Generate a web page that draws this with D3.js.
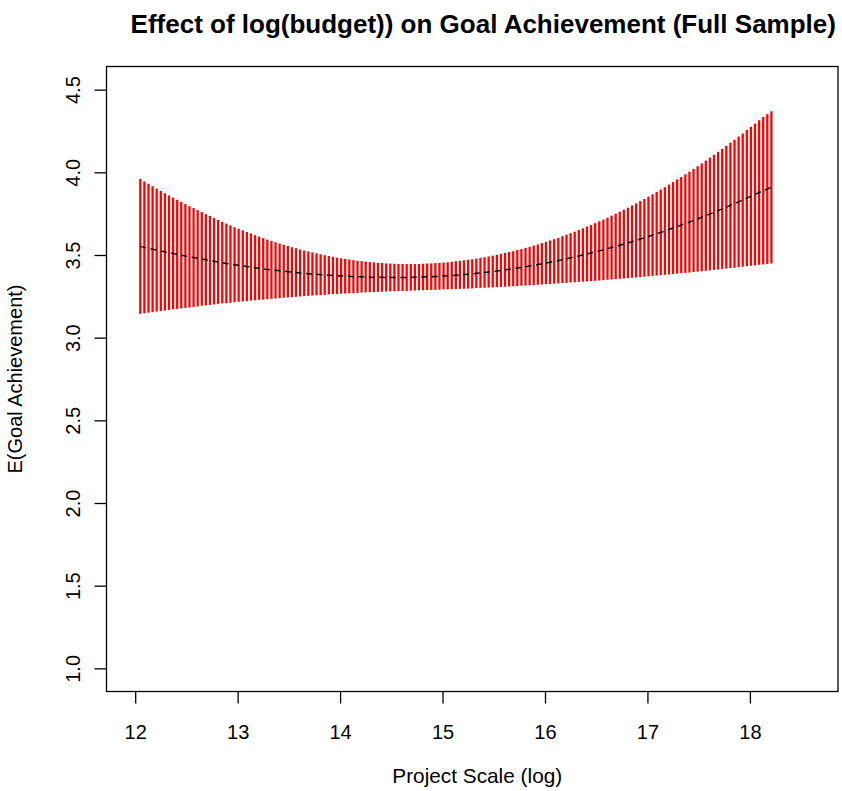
<!DOCTYPE html>
<html><head><meta charset="utf-8">
<script src="https://cdn.jsdelivr.net/npm/d3@7"></script>
<style>
body{margin:0;background:#fff}
svg{display:block}
text{font-family:"Liberation Sans",Arial,Helvetica,sans-serif;fill:#000}
</style>
</head><body>
<svg id="chart" width="842" height="791"></svg>
<script>
// log(budget) evaluation points
const budgetLog = [
12.05,12.09,12.13,12.17,12.21,12.25,12.29,12.33,12.37,12.41,
12.45,12.49,12.53,12.57,12.61,12.65,12.69,12.73,12.77,12.81,
12.85,12.89,12.93,12.97,13.01,13.05,13.09,13.13,13.17,13.21,
13.25,13.29,13.33,13.37,13.41,13.45,13.49,13.53,13.57,13.61,
13.65,13.69,13.73,13.77,13.81,13.85,13.89,13.93,13.97,14.01,
14.05,14.09,14.13,14.17,14.21,14.25,14.29,14.33,14.37,14.41,
14.45,14.49,14.53,14.57,14.61,14.65,14.69,14.73,14.77,14.81,
14.85,14.89,14.93,14.97,15.01,15.05,15.09,15.13,15.17,15.21,
15.25,15.29,15.33,15.37,15.41,15.45,15.49,15.53,15.57,15.61,
15.65,15.69,15.73,15.77,15.81,15.85,15.89,15.93,15.97,16.01,
16.05,16.09,16.13,16.17,16.21,16.25,16.29,16.33,16.37,16.41,
16.45,16.49,16.53,16.57,16.61,16.65,16.69,16.73,16.77,16.81,
16.85,16.89,16.93,16.97,17.01,17.05,17.09,17.13,17.17,17.21,
17.25,17.29,17.33,17.37,17.41,17.45,17.49,17.53,17.57,17.61,
17.65,17.69,17.73,17.77,17.81,17.85,17.89,17.93,17.97,18.01,
18.05,18.09,18.13,18.17,18.21
];
// expected goal achievement (dashed line)
const effect = [
3.552,3.546,3.541,3.535,3.530,3.524,3.519,3.514,3.509,3.504,
3.499,3.494,3.489,3.485,3.480,3.476,3.471,3.467,3.462,3.458,
3.454,3.449,3.445,3.441,3.438,3.434,3.430,3.427,3.423,3.420,
3.416,3.413,3.410,3.407,3.404,3.402,3.399,3.396,3.394,3.391,
3.389,3.387,3.385,3.383,3.381,3.379,3.378,3.376,3.374,3.373,
3.372,3.371,3.369,3.368,3.368,3.367,3.366,3.365,3.365,3.365,
3.364,3.364,3.364,3.364,3.364,3.364,3.365,3.365,3.366,3.367,
3.368,3.369,3.370,3.371,3.373,3.374,3.376,3.378,3.380,3.382,
3.384,3.386,3.389,3.392,3.394,3.397,3.400,3.403,3.407,3.410,
3.414,3.417,3.421,3.425,3.429,3.433,3.438,3.442,3.447,3.451,
3.456,3.461,3.466,3.472,3.477,3.483,3.488,3.494,3.500,3.506,
3.512,3.518,3.525,3.531,3.538,3.545,3.552,3.559,3.566,3.573,
3.581,3.588,3.596,3.604,3.612,3.620,3.629,3.637,3.645,3.654,
3.663,3.672,3.681,3.690,3.699,3.709,3.718,3.728,3.738,3.748,
3.758,3.768,3.779,3.789,3.800,3.810,3.821,3.832,3.844,3.855,
3.866,3.878,3.889,3.899,3.909
];
// half width of the confidence interval (red bars)
const ciHalf = [
0.408,0.399,0.390,0.381,0.372,0.363,0.355,0.346,0.338,0.330,
0.322,0.314,0.306,0.299,0.291,0.283,0.276,0.269,0.261,0.254,
0.247,0.241,0.234,0.227,0.221,0.215,0.209,0.203,0.197,0.191,
0.186,0.180,0.175,0.170,0.165,0.160,0.156,0.151,0.147,0.142,
0.138,0.134,0.130,0.127,0.123,0.120,0.116,0.113,0.110,0.107,
0.105,0.102,0.100,0.097,0.095,0.093,0.091,0.090,0.088,0.087,
0.085,0.084,0.083,0.082,0.082,0.081,0.081,0.080,0.080,0.080,
0.080,0.080,0.081,0.081,0.081,0.082,0.083,0.084,0.085,0.086,
0.087,0.088,0.089,0.091,0.092,0.094,0.096,0.098,0.100,0.102,
0.104,0.106,0.109,0.111,0.114,0.116,0.119,0.122,0.125,0.128,
0.132,0.135,0.138,0.142,0.146,0.149,0.153,0.157,0.161,0.166,
0.170,0.174,0.179,0.183,0.188,0.193,0.198,0.203,0.208,0.213,
0.219,0.224,0.230,0.235,0.241,0.247,0.253,0.259,0.265,0.272,
0.278,0.285,0.291,0.298,0.305,0.312,0.319,0.326,0.333,0.341,
0.348,0.356,0.363,0.371,0.379,0.387,0.395,0.403,0.412,0.420,
0.429,0.437,0.446,0.453,0.460
];
const xTicks = [12,13,14,15,16,17,18];
const yTicks = [1.0,1.5,2.0,2.5,3.0,3.5,4.0,4.5];
const titleText = "Effect of log(budget)) on Goal Achievement (Full Sample)";
const xLabelText = "Project Scale (log)";
const yLabelText = "E(Goal Achievement)";

const svg = d3.select("#chart");
const L = 106.5, R = 838, T = 66.5, B = 691.5;
const x = d3.scaleLinear().domain([11.72, 18.86]).range([L, R]);
const y = d3.scaleLinear().domain([0.86, 4.64]).range([B, T]);

const rows = budgetLog.map((u, i) => ({u, m: effect[i], lo: effect[i] - ciHalf[i], hi: effect[i] + ciHalf[i]}));

// CI bars
svg.append("g").selectAll("line").data(rows).join("line")
  .attr("x1", d => x(d.u)).attr("x2", d => x(d.u))
  .attr("y1", d => y(d.lo)).attr("y2", d => y(d.hi))
  .attr("stroke", "#ff0000").attr("stroke-width", 2.3);

// mean dashed line
svg.append("path").datum(rows)
  .attr("d", d3.line().x(d => x(d.u)).y(d => y(d.m)))
  .attr("fill", "none").attr("stroke", "#000").attr("stroke-width", 1.5)
  .attr("stroke-dasharray", "6,4.5");

// box
svg.append("rect").attr("x", L).attr("y", T).attr("width", R - L).attr("height", B - T)
  .attr("fill", "none").attr("stroke", "#000").attr("stroke-width", 1.3);

// x axis
const gx = svg.append("g").attr("transform", `translate(0,${B})`)
  .call(d3.axisBottom(x).tickValues(xTicks).tickSize(12).tickPadding(21.3).tickFormat(d3.format("d")));
gx.select(".domain").remove();
gx.selectAll("line").attr("stroke", "#000").attr("stroke-width", 1.3);
gx.selectAll("text").attr("font-size", 20).attr("font-family", "Liberation Sans, Arial, sans-serif");

// y axis
const gy = svg.append("g").attr("transform", `translate(${L},0)`)
  .call(d3.axisLeft(y).tickValues(yTicks).tickSize(12).tickFormat(d3.format(".1f")));
gy.select(".domain").remove();
gy.selectAll("line").attr("stroke", "#000").attr("stroke-width", 1.3);
gy.selectAll("text")
  .attr("x", null).attr("dy", null)
  .attr("transform", "translate(-26.5,0) rotate(-90)")
  .attr("text-anchor", "middle")
  .attr("font-size", 20).attr("font-family", "Liberation Sans, Arial, sans-serif");

// titles
const cx = (L + R) / 2;
svg.append("text").attr("x", cx + 11).attr("y", 33).attr("text-anchor", "middle")
  .attr("font-size", 26).attr("font-weight", "bold").text(titleText);
svg.append("text").attr("x", cx + 5).attr("y", 783).attr("text-anchor", "middle")
  .attr("font-size", 20.8).text(xLabelText);
svg.append("text").attr("transform", `translate(21.5,${(T + B) / 2}) rotate(-90)`)
  .attr("text-anchor", "middle").attr("font-size", 20).text(yLabelText);
</script>
</body></html>
